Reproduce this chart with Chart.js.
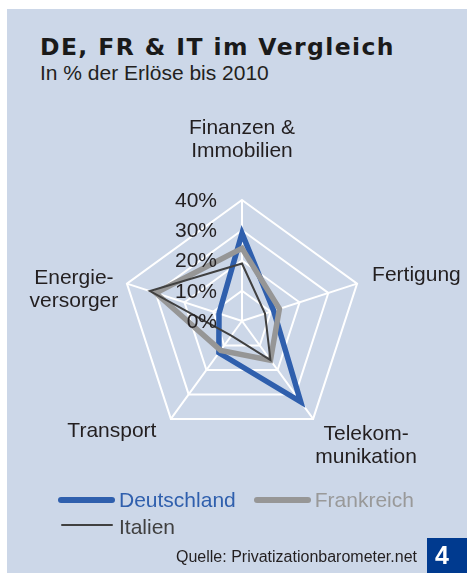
<!DOCTYPE html>
<html>
<head>
<meta charset="utf-8">
<script src="https://cdn.jsdelivr.net/npm/chart.js@4.4.1/dist/chart.umd.min.js"></script>
<style>
  body { margin: 0; width: 467px; height: 574px; position: relative; overflow: hidden; background: #fff;
         font-family: "Liberation Sans", Arial, sans-serif; color: #231f20; }
  #panel { position: absolute; left: 7px; top: 9px; width: 460px; height: 564px; background: #ccd7e8; }
  #title { position: absolute; left: 40px; top: 34px; font: bold 23.5px "DejaVu Sans", sans-serif; letter-spacing: 1.4px; line-height: 26px; white-space: nowrap; color: #1a1a1a; }
  #subtitle { position: absolute; left: 40px; top: 61px; font-size: 21px; line-height: 24px; white-space: nowrap; }
  #chart { position: absolute; left: 0; top: 90px; }
  #legend { position: absolute; left: 58px; top: 486px; width: 380px; font-size: 21px; display: flex; flex-wrap: wrap; }
  #legend .item { display: flex; align-items: center; height: 27px; margin-right: 18px; white-space: nowrap; }
  #legend .sw { display: block; width: 57px; border-radius: 4px; margin-right: 4px; }
  #source { position: absolute; right: 50px; top: 549px; font-size: 16px; line-height: 16px; white-space: nowrap; }
  #badge { position: absolute; left: 427px; top: 538px; width: 40px; height: 35px; background: #003a8f; color: #fff;
           font: bold 25px "Liberation Sans", Arial, sans-serif; line-height: 35px; text-indent: 8px; }
</style>
</head>
<body>
<div id="panel"></div>
<div id="title">DE, FR &amp; IT im Vergleich</div>
<div id="subtitle">In % der Erlöse bis 2010</div>
<canvas id="chart" width="467" height="400"></canvas>
<div id="legend"></div>
<div id="source">Quelle: Privatizationbarometer.net</div>
<div id="badge">4</div>
<script>
// data
const categories = [['Finanzen &', 'Immobilien'], ['Fertigung'], ['Telekom-', 'munikation'], ['Transport'], ['Energie-', 'versorger']];
const deutschland = [29, 11, 33, 13, 8];
const frankreich = [24, 13, 16, 12, 30];
const italien = [19, 8, 16, 6, 32];
const tickValues = [0, 10, 20, 30, 40];

const textFont = '21px "Liberation Sans", Arial, sans-serif';
const textColor = '#231f20';

// label placement relative to each axis end: [dx, dy, align]
const labelOffsets = [[0, -60, 'center'], [15, -8, 'left'], [53, 27, 'center'], [-59, 12, 'center'], [-53, 6, 'center']];

const labelPlugin = {
  id: 'radarText',
  afterDatasetsDraw(chart) {
    const scale = chart.scales.r;
    const ctx = chart.ctx;
    ctx.save();
    ctx.font = textFont;
    ctx.fillStyle = textColor;
    ctx.textBaseline = 'middle';
    // tick labels to the left of the top axis
    ctx.textAlign = 'right';
    tickValues.forEach(v => {
      const p = scale.getPointPositionForValue(0, v);
      ctx.fillText(v + '%', p.x - 25, p.y + 1);
    });
    // category labels
    categories.forEach((lines, i) => {
      const p = scale.getPointPosition(i, scale.drawingArea);
      const [dx, dy, align] = labelOffsets[i];
      ctx.textAlign = align;
      lines.forEach((line, k) => {
        ctx.fillText(line, p.x + dx, p.y + dy + (k - (lines.length - 1) / 2) * 23);
      });
    });
    ctx.restore();
  }
};

const data = {
  labels: categories,
  datasets: [
    { label: 'Deutschland', data: deutschland, borderColor: '#2f5fad', borderWidth: 5.5, order: 3, textColor: '#2f5fad' },
    { label: 'Frankreich', data: frankreich, borderColor: '#969696', borderWidth: 5.5, order: 2, textColor: '#999999' },
    { label: 'Italien', data: italien, borderColor: '#404040', borderWidth: 2, order: 1, textColor: '#404040' }
  ]
};

const config = {
  type: 'radar',
  data,
  options: {
    responsive: false,
    animation: false,
    layout: { padding: { left: 121, top: 110, right: 104, bottom: 48 } },
    elements: {
      line: { tension: 0, fill: false, backgroundColor: 'transparent', borderJoinStyle: 'miter' },
      point: { radius: 0, hoverRadius: 0 }
    },
    plugins: { legend: { display: false }, tooltip: { enabled: false } },
    scales: {
      r: {
        min: 0,
        max: 40,
        ticks: { display: false, stepSize: 10 },
        grid: { color: '#ffffff', lineWidth: 2 },
        angleLines: { color: '#ffffff', lineWidth: 2 },
        pointLabels: { display: false }
      }
    }
  },
  plugins: [labelPlugin]
};

const myChart = new Chart(document.getElementById('chart'), config);

// html legend built from the datasets
const legend = document.getElementById('legend');
myChart.data.datasets.forEach(ds => {
  const item = document.createElement('span');
  item.className = 'item';
  const sw = document.createElement('span');
  sw.className = 'sw';
  sw.style.background = ds.borderColor;
  sw.style.height = (ds.borderWidth > 3 ? 6 : 2) + 'px';
  if (ds.borderWidth <= 3) { sw.style.width = '52px'; sw.style.marginLeft = '3px'; sw.style.marginRight = '6px'; sw.style.marginTop = '-4px'; }
  const txt = document.createElement('span');
  txt.textContent = ds.label;
  txt.style.color = ds.textColor;
  item.appendChild(sw);
  item.appendChild(txt);
  legend.appendChild(item);
});
</script>
</body>
</html>
